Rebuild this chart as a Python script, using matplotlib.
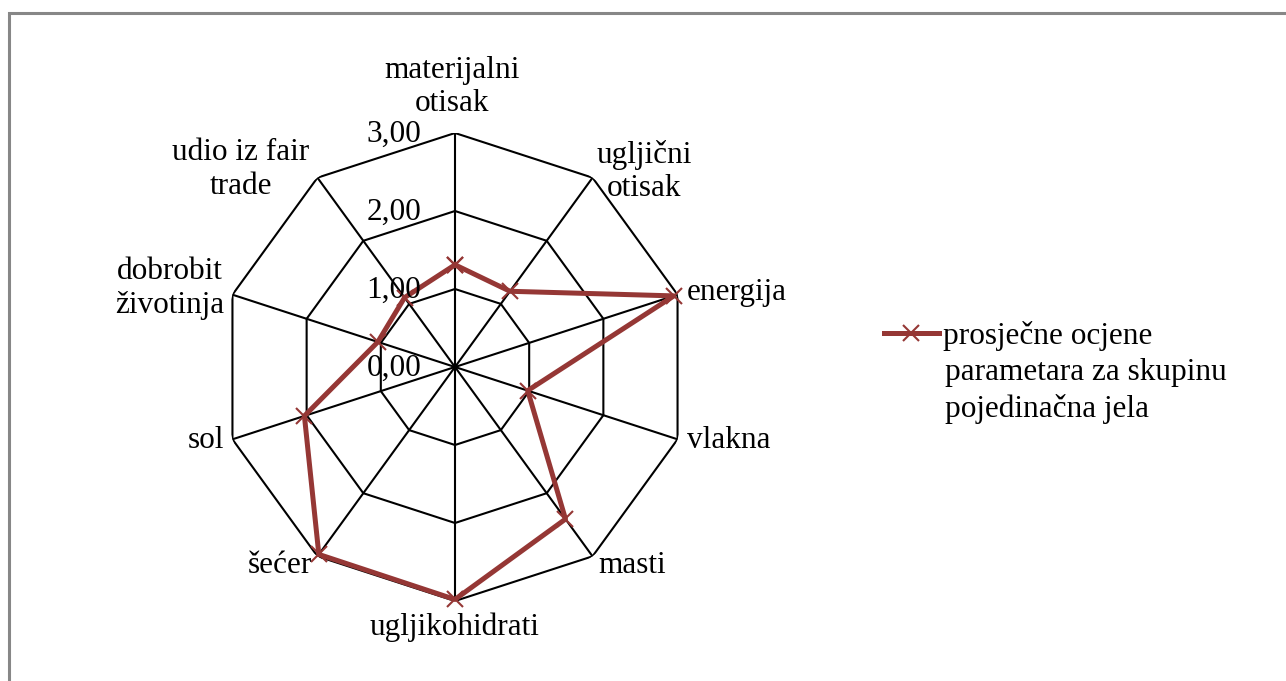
import numpy as np
import matplotlib
matplotlib.use('Agg')
import matplotlib.pyplot as plt
from matplotlib.patches import Rectangle
from matplotlib.lines import Line2D

# Data
categories = ['materijalni\notisak', 'ugljični\notisak', 'energija', 'vlakna', 'masti',
              'ugljikohidrati', 'šećer', 'sol', 'dobrobit\nživotinja', 'udio iz fair\ntrade']
values = [1.31, 1.20, 2.95, 0.98, 2.41, 2.98, 2.97, 2.03, 1.04, 1.10]
rings = [1.0, 2.0, 3.0]
tick_values = [0.0, 1.0, 2.0, 3.0]
tick_labels = ['0,00', '1,00', '2,00', '3,00']
series_label = 'prosječne ocjene'
series_label_rest = 'parametara za skupinu\npojedinačna jela'

# label placement: (ha, va, dx px, dy px)
label_pos = [('center', 'bottom', -3, 15), ('left', 'center', 4, 6), ('left', 'center', 9, 2),
             ('left', 'center', 9, -1), ('left', 'center', 6, -9), ('center', 'top', 0, -11),
             ('right', 'center', -5, -9), ('right', 'center', -8, -1), ('right', 'center', -8, 6),
             ('right', 'center', -8, 8)]

plt.rcParams['font.family'] = ['Liberation Serif', 'DejaVu Serif']
fs = 22.5
red = '#953735'

W, H = 1286, 681
fig = plt.figure(figsize=(W / 100, H / 100), dpi=100)

# outer frame
fig.patches.append(Rectangle((9 / W, -0.1), 1.2, (H - 13) / H + 0.1, transform=fig.transFigure,
                             fill=False, ec='#878787', lw=2.2))

cx, cy, R = 455, 367, 234
ax = fig.add_axes([(cx - R) / W, (H - cy - R) / H, 2 * R / W, 2 * R / H], projection='polar')
ax.set_theta_offset(np.pi / 2)
ax.set_theta_direction(-1)
ax.set_ylim(0, 3)
ax.grid(False)
ax.set_xticks([])
ax.set_yticks([])
ax.spines['polar'].set_visible(False)
ax.patch.set_alpha(0)

n = len(categories)
theta = np.arange(n) * 2 * np.pi / n
theta_closed = np.append(theta, theta[0])

# polygon grid
for r in rings:
    ax.plot(theta_closed, [r] * (n + 1), color='black', lw=1.5, zorder=1)
for t in theta:
    ax.plot([t, t], [0, 3], color='black', lw=1.5, zorder=1)

# series
vals_closed = values + values[:1]
ax.plot(theta_closed, vals_closed, color=red, lw=3.6, marker='x', ms=12, mew=1.5,
        zorder=3, clip_on=False)

# radial tick labels
for v, s in zip(tick_values, tick_labels):
    ax.annotate(s, xy=(0, v), xytext=(-34, -1), textcoords='offset pixels',
                ha='right', va='center', fontsize=fs, annotation_clip=False)

# category labels
for t, lab, (ha, va, dx, dy) in zip(theta, categories, label_pos):
    ax.annotate(lab, xy=(t, 3), xytext=(dx, dy), textcoords='offset pixels',
                ha=ha, va=va, multialignment='center', fontsize=fs, annotation_clip=False,
                linespacing=1.2)

# legend
handle = Line2D([], [], color=red, lw=3.6, marker='x', ms=12, mew=1.5)
fig.legend([handle], [series_label], loc='upper left', bbox_to_anchor=(884 / W, 1 - 321 / H),
           frameon=False, fontsize=fs, handlelength=1.75, handletextpad=0.15,
           borderpad=0, borderaxespad=0)
fig.text(945 / W, 1 - 358 / H, series_label_rest, ha='left', va='top', fontsize=fs,
         linespacing=1.3)

fig.savefig('out.png', dpi=100)
